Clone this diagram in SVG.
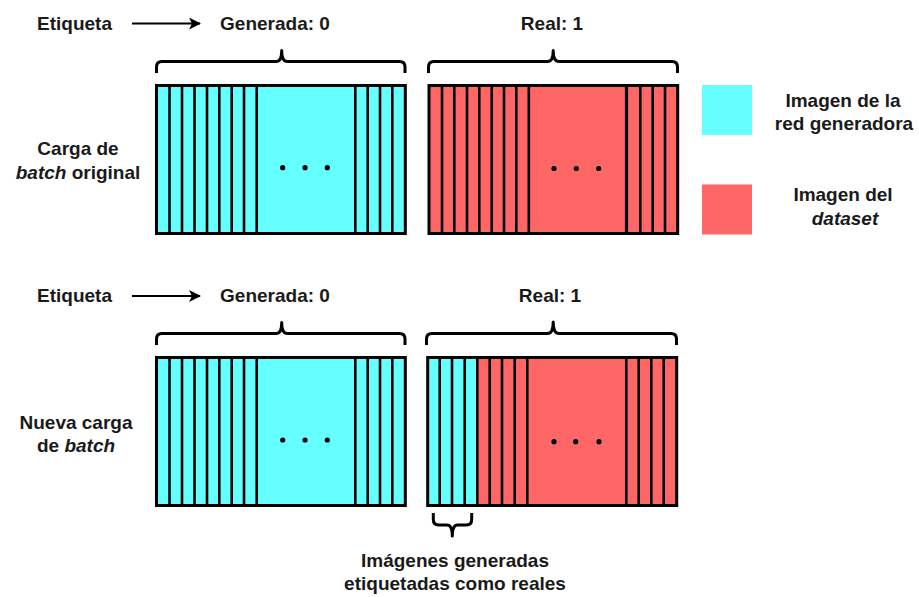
<svg xmlns="http://www.w3.org/2000/svg" width="919" height="597" viewBox="0 0 919 597">
  <defs>
    <style>
      .lbl { font-family: "Liberation Sans", Arial, sans-serif; font-size: 19px; font-weight: bold; fill: #1a1a1a; text-anchor: middle; }
      .lbl-l { font-family: "Liberation Sans", Arial, sans-serif; font-size: 19px; font-weight: bold; fill: #1a1a1a; }
      .gen { fill: #66ffff; }
      .real { fill: #ff6666; }
      .border { fill: none; stroke: #000; stroke-width: 3; }
      .sep { stroke: #000; stroke-width: 2.6; }
      .brace { fill: none; stroke: #000; stroke-width: 3; stroke-linejoin: round; }
      .dot { fill: #000; }
      .conn { stroke: #000; stroke-width: 2; fill: none; }
    </style>
    <marker id="arrowHead" viewBox="0 0 12 12" refX="11" refY="6" markerWidth="12" markerHeight="12" markerUnits="userSpaceOnUse" orient="auto">
      <path d="M0,0 L12,6 L0,12 L3,6 Z" fill="#000"/>
    </marker>
  </defs>

  <!-- label arrows -->
  <g id="connectors">
    <line class="conn" x1="132" y1="23.5" x2="200" y2="23.5" marker-end="url(#arrowHead)"/>
    <line class="conn" x1="132" y1="296" x2="200" y2="296" marker-end="url(#arrowHead)"/>
  </g>

  <!-- header labels, row 1 -->
  <g id="row1-labels">
    <text class="lbl-l" x="37" y="30">Etiqueta</text>
    <text class="lbl" x="275" y="30">Generada: 0</text>
    <text class="lbl" x="552" y="30">Real: 1</text>
    <text class="lbl" x="78" y="155">Carga de</text>
    <text class="lbl" x="78" y="178.5"><tspan font-style="italic">batch</tspan> original</text>
  </g>

  <!-- braces, row 1 -->
  <g id="row1-braces">
    <path class="brace" d="M156.5,73 V67 Q156.5,61.5 162,61.5 H276 Q281.7,61.5 281.7,50.5 Q281.7,61.5 287.4,61.5 H399.5 Q405,61.5 405,67 V73"/>
    <path class="brace" d="M428.5,73 V67 Q428.5,61.5 434,61.5 H547.5 Q553.2,61.5 553.2,50.5 Q553.2,61.5 559,61.5 H672 Q677.5,61.5 677.5,67 V73"/>
  </g>

  <!-- batch block: generated images, row 1 -->
  <g id="batch1-gen">
    <rect class="gen" x="156.5" y="85.5" width="248.8" height="148"/>
    <g class="sep">
      <line x1="169.5" y1="85.5" x2="169.5" y2="233.5"/>
      <line x1="182" y1="85.5" x2="182" y2="233.5"/>
      <line x1="194.5" y1="85.5" x2="194.5" y2="233.5"/>
      <line x1="207" y1="85.5" x2="207" y2="233.5"/>
      <line x1="219.3" y1="85.5" x2="219.3" y2="233.5"/>
      <line x1="231.7" y1="85.5" x2="231.7" y2="233.5"/>
      <line x1="244" y1="85.5" x2="244" y2="233.5"/>
      <line x1="256.7" y1="85.5" x2="256.7" y2="233.5"/>
      <line x1="355.3" y1="85.5" x2="355.3" y2="233.5"/>
      <line x1="367.7" y1="85.5" x2="367.7" y2="233.5"/>
      <line x1="380" y1="85.5" x2="380" y2="233.5"/>
      <line x1="392.3" y1="85.5" x2="392.3" y2="233.5"/>
    </g>
    <rect class="border" x="156.5" y="85.5" width="248.8" height="148"/>
    <circle class="dot" cx="282.7" cy="167.7" r="2.6"/>
    <circle class="dot" cx="305" cy="167.7" r="2.6"/>
    <circle class="dot" cx="327.3" cy="167.7" r="2.6"/>
  </g>

  <!-- batch block: dataset images, row 1 -->
  <g id="batch1-real">
    <rect class="real" x="429" y="85.5" width="248.7" height="148"/>
    <g class="sep">
      <line x1="442" y1="85.5" x2="442" y2="233.5"/>
      <line x1="454.3" y1="85.5" x2="454.3" y2="233.5"/>
      <line x1="467" y1="85.5" x2="467" y2="233.5"/>
      <line x1="479.3" y1="85.5" x2="479.3" y2="233.5"/>
      <line x1="491.7" y1="85.5" x2="491.7" y2="233.5"/>
      <line x1="504" y1="85.5" x2="504" y2="233.5"/>
      <line x1="516.3" y1="85.5" x2="516.3" y2="233.5"/>
      <line x1="528.8" y1="85.5" x2="528.8" y2="233.5"/>
      <line x1="626.5" y1="85.5" x2="626.5" y2="233.5" stroke-width="3.2"/>
      <line x1="640.3" y1="85.5" x2="640.3" y2="233.5"/>
      <line x1="652.7" y1="85.5" x2="652.7" y2="233.5"/>
      <line x1="665" y1="85.5" x2="665" y2="233.5"/>
    </g>
    <rect class="border" x="429" y="85.5" width="248.7" height="148"/>
    <circle class="dot" cx="554" cy="168.5" r="2.6"/>
    <circle class="dot" cx="576.3" cy="168.5" r="2.6"/>
    <circle class="dot" cx="598.7" cy="168.5" r="2.6"/>
  </g>

  <!-- legend -->
  <g id="legend-gen">
    <rect class="gen" x="702" y="85" width="50" height="50"/>
    <text class="lbl" x="843" y="107">Imagen de la</text>
    <text class="lbl" x="844" y="130">red generadora</text>
  </g>
  <g id="legend-real">
    <rect class="real" x="702" y="184.5" width="50" height="50"/>
    <text class="lbl" x="843" y="201">Imagen del</text>
    <text class="lbl" x="845" y="224.5" font-style="italic">dataset</text>
  </g>

  <!-- header labels, row 2 -->
  <g id="row2-labels">
    <text class="lbl-l" x="37" y="302">Etiqueta</text>
    <text class="lbl" x="275" y="302">Generada: 0</text>
    <text class="lbl" x="550" y="302">Real: 1</text>
    <text class="lbl" x="76" y="428.5">Nueva carga</text>
    <text class="lbl" x="76" y="452">de <tspan font-style="italic">batch</tspan></text>
  </g>

  <!-- braces, row 2 -->
  <g id="row2-braces">
    <path class="brace" d="M156.5,345 V339 Q156.5,333.5 162,333.5 H276 Q281.7,333.5 281.7,322.5 Q281.7,333.5 287.4,333.5 H399.5 Q405,333.5 405,339 V345"/>
    <path class="brace" d="M426.5,345 V339 Q426.5,333.5 432,333.5 H547.5 Q553.2,333.5 553.2,322 Q553.2,333.5 559,333.5 H671 Q676.5,333.5 676.5,339 V345"/>
  </g>

  <!-- batch block: generated images, row 2 -->
  <g id="batch2-gen">
    <rect class="gen" x="156.5" y="357.5" width="248.8" height="148"/>
    <g class="sep">
      <line x1="169.5" y1="357.5" x2="169.5" y2="505.5"/>
      <line x1="182" y1="357.5" x2="182" y2="505.5"/>
      <line x1="194.5" y1="357.5" x2="194.5" y2="505.5"/>
      <line x1="207" y1="357.5" x2="207" y2="505.5"/>
      <line x1="219.3" y1="357.5" x2="219.3" y2="505.5"/>
      <line x1="231.7" y1="357.5" x2="231.7" y2="505.5"/>
      <line x1="244" y1="357.5" x2="244" y2="505.5"/>
      <line x1="256.7" y1="357.5" x2="256.7" y2="505.5"/>
      <line x1="355.3" y1="357.5" x2="355.3" y2="505.5"/>
      <line x1="367.7" y1="357.5" x2="367.7" y2="505.5"/>
      <line x1="380" y1="357.5" x2="380" y2="505.5"/>
      <line x1="392.3" y1="357.5" x2="392.3" y2="505.5"/>
    </g>
    <rect class="border" x="156.5" y="357.5" width="248.8" height="148"/>
    <circle class="dot" cx="282.7" cy="440" r="2.6"/>
    <circle class="dot" cx="305" cy="440" r="2.6"/>
    <circle class="dot" cx="327.3" cy="440" r="2.6"/>
  </g>

  <!-- batch block: mixed, generated images relabelled as real -->
  <g id="batch2-real">
    <rect class="real" x="427.7" y="357.5" width="249" height="148"/>
    <rect class="gen" x="427.7" y="357.5" width="49.6" height="148"/>
    <g class="sep">
      <line x1="439.7" y1="357.5" x2="439.7" y2="505.5"/>
      <line x1="452" y1="357.5" x2="452" y2="505.5"/>
      <line x1="464.7" y1="357.5" x2="464.7" y2="505.5"/>
      <line x1="477.3" y1="357.5" x2="477.3" y2="505.5"/>
      <line x1="489.7" y1="357.5" x2="489.7" y2="505.5"/>
      <line x1="502" y1="357.5" x2="502" y2="505.5"/>
      <line x1="514.7" y1="357.5" x2="514.7" y2="505.5"/>
      <line x1="527.3" y1="357.5" x2="527.3" y2="505.5"/>
      <line x1="626.3" y1="357.5" x2="626.3" y2="505.5"/>
      <line x1="638.7" y1="357.5" x2="638.7" y2="505.5"/>
      <line x1="651.3" y1="357.5" x2="651.3" y2="505.5"/>
      <line x1="663.7" y1="357.5" x2="663.7" y2="505.5"/>
    </g>
    <rect class="border" x="427.7" y="357.5" width="249" height="148"/>
    <circle class="dot" cx="554" cy="441.7" r="2.6"/>
    <circle class="dot" cx="575.7" cy="441.7" r="2.6"/>
    <circle class="dot" cx="599" cy="441.7" r="2.6"/>
  </g>

  <!-- note on the relabelled generated images -->
  <g id="relabel-note">
    <path class="brace" d="M433.3,513 V519.5 Q433.3,525 438.8,525 H447 Q452.3,525 452.3,536 Q452.3,525 457.6,525 H466.2 Q471.7,525 471.7,519.5 V513"/>
    <text class="lbl" x="455" y="567">Imágenes generadas</text>
    <text class="lbl" x="455" y="589.5">etiquetadas como reales</text>
  </g>
</svg>
